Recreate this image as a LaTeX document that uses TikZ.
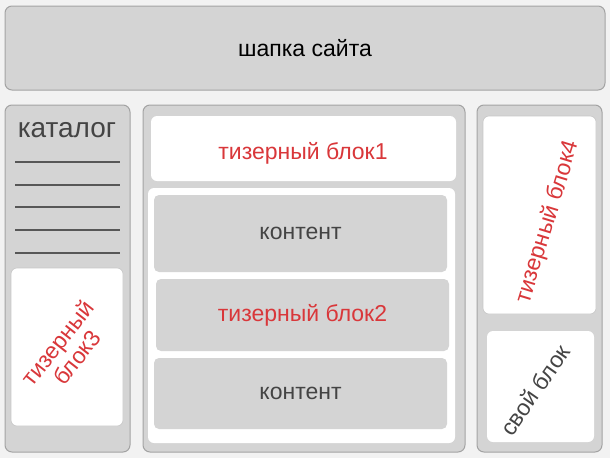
\documentclass[tikz,border=0pt]{standalone}
\usepackage{fontspec}
\setmainfont{Liberation Sans}
\usepackage{xcolor}

\definecolor{pagebg}{HTML}{F2F2F2}
\definecolor{panelgray}{HTML}{D4D4D4}
\definecolor{edgegray}{HTML}{A3A3A3}
\definecolor{teaserred}{HTML}{D9373A}
\definecolor{darktext}{HTML}{444444}

\begin{document}
\begin{tikzpicture}[x=1pt, y=-1pt,
    panel/.style={draw=edgegray, fill=panelgray, line width=1pt, rounded corners=7pt,
                  inner sep=0pt, outer sep=0pt},
    slot/.style={fill=panelgray, rounded corners=5pt, inner sep=0pt, outer sep=0pt},
    whitebox/.style={draw=edgegray!60, fill=white, line width=.6pt, rounded corners=6pt,
                     inner sep=0pt, outer sep=0pt},
    redlabel/.style={text=teaserred, font=\fontsize{23}{24}\selectfont, align=center},
    greylabel/.style={text=darktext, font=\fontsize{23}{24}\selectfont, align=center}]

    % page
    \fill[pagebg] (0,0) rectangle (610,458);
    \useasboundingbox (0,0) rectangle (610,458);

    % header
    \node[panel, minimum width=600, minimum height=84,
          font=\fontsize{23}{26}\selectfont] (header) at (305,48) {шапка сайта};

    % columns
    \node[panel, minimum width=125, minimum height=347] (leftcol) at (67.5,278.5) {};
    \node[panel, minimum width=322, minimum height=347] (midcol) at (304,278.5) {};
    \node[panel, minimum width=125, minimum height=347] (rightcol) at (539.5,278.5) {};

    % catalog
    \node[text=darktext, font=\fontsize{28}{30}\selectfont] (catalog) at (67,130) {каталог};
    \foreach \ly in {162,185,207,230,253}
        \draw[darktext!90, line width=1.8pt] (15,\ly) -- (120,\ly);

    \node[whitebox, minimum width=112, minimum height=158] (teaser3) at (67,347) {};
    \node[redlabel, rotate=52] (teaser3lbl) at (67,350) {тизерный\\блок3};

    % middle column
    \node[whitebox, draw=none, minimum width=305, minimum height=65] (teaser1) at (303.5,148.5) {};
    \node[redlabel] (teaser1lbl) at (303,153) {тизерный блок1};

    \node[fill=white, rounded corners=6pt, minimum width=307, minimum height=255,
          inner sep=0pt] (content) at (301.5,315.5) {};
    \node[slot, minimum width=293, minimum height=77, greylabel] (content1) at (300.5,233.5) {контент};
    \node[slot, minimum width=293, minimum height=72, redlabel] (teaser2) at (302.5,315) {тизерный блок2};
    \node[slot, minimum width=293, minimum height=71, greylabel] (content2) at (300.5,393.5) {контент};

    % right column
    \node[whitebox, minimum width=113, minimum height=198] (teaser4) at (539.5,215) {};
    \node[redlabel, rotate=73] (teaser4lbl) at (548,222) {тизерный блок4};

    \node[whitebox, draw=none, minimum width=107, minimum height=111] (ownblock) at (540.5,386.5) {};
    \node[greylabel, rotate=55] (ownlbl) at (535,390) {свой блок};
\end{tikzpicture}
\end{document}
